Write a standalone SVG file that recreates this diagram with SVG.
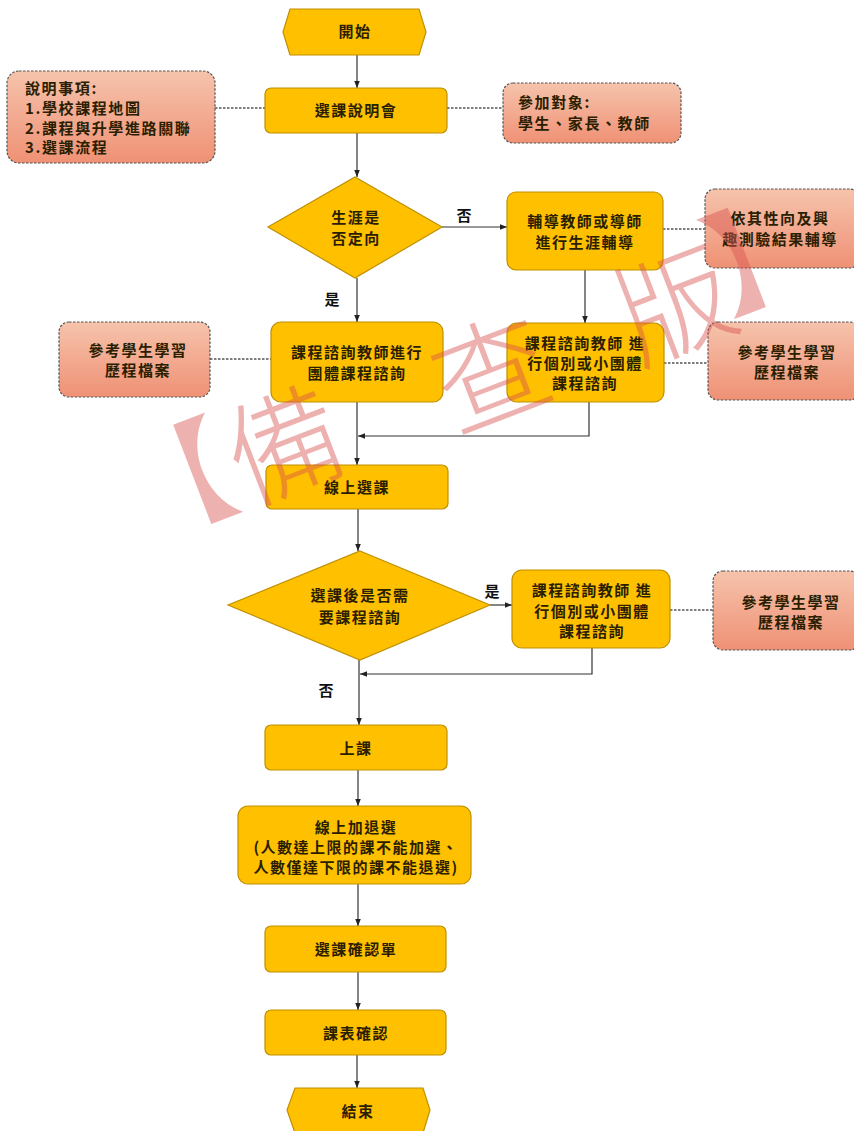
<svg xmlns="http://www.w3.org/2000/svg" width="854" height="1131" viewBox="0 0 854 1131">
<defs>
<linearGradient id="noteGrad" x1="0" y1="0" x2="0" y2="1">
<stop offset="0" stop-color="#F6C3AC"/>
<stop offset="1" stop-color="#EF9175"/>
</linearGradient>
<marker id="arr" viewBox="0 0 10 10" refX="10" refY="5" markerWidth="7" markerHeight="7" markerUnits="userSpaceOnUse" orient="auto">
<path d="M0,1 L10,5 L0,9 z" fill="#222"/>
</marker>
<style>
.box{fill:#FFC000;stroke:#BF9000;stroke-width:1.2}
.note{fill:url(#noteGrad);stroke:#555;stroke-width:1.2;stroke-dasharray:2.5 1.5}
.t{font-family:"Noto Sans CJK TC","Noto Sans CJK SC",sans-serif;font-size:15px;font-weight:bold;fill:#2a2000;text-anchor:middle;letter-spacing:1.5px}
.nt{font-family:"Noto Sans CJK TC","Noto Sans CJK SC",sans-serif;font-size:15px;font-weight:bold;fill:#2a2000;letter-spacing:1.6px}
.lbl{font-family:"Noto Sans CJK TC","Noto Sans CJK SC",sans-serif;font-size:15px;font-weight:bold;fill:#111;text-anchor:middle}
.flow{fill:none;stroke:#333;stroke-width:1.2;marker-end:url(#arr)}
.dash{fill:none;stroke:#555;stroke-width:1.3;stroke-dasharray:2.5 1.5}
.wm{font-family:"Noto Sans CJK TC","Noto Sans CJK SC",sans-serif;font-size:115px;font-weight:300;fill:#D9534F;opacity:0.45;text-anchor:middle}
</style>
</defs>
<rect width="854" height="1131" fill="#ffffff"/>

<g id="connectors">
<path class="flow" d="M357,55 V88"/>
<path class="flow" d="M357,133 V177"/>
<path class="flow" d="M442,227 H507"/>
<path class="flow" d="M357,278 V322"/>
<path class="flow" d="M585,270 V323"/>
<path class="flow" d="M357,402 V465"/>
<path class="flow" d="M589,402 V436 H358"/>
<path class="flow" d="M358,509 V551"/>
<path class="flow" d="M490,605 H512"/>
<path class="flow" d="M592,648 V674 H360"/>
<path class="flow" d="M359,660 V725"/>
<path class="flow" d="M358,770 V806"/>
<path class="flow" d="M358,884 V926"/>
<path class="flow" d="M358,972 V1010"/>
<path class="flow" d="M357,1055 V1088"/>
<path class="dash" d="M215,108 H265"/>
<path class="dash" d="M447,108 H503"/>
<path class="dash" d="M663,229 H705"/>
<path class="dash" d="M210,359 H271"/>
<path class="dash" d="M664,363 H708"/>
<path class="dash" d="M670,610 H713"/>
<text class="lbl" x="464" y="221">否</text>
<text class="lbl" x="332" y="305">是</text>
<text class="lbl" x="492" y="597">是</text>
<text class="lbl" x="326" y="696">否</text>
</g>

<g id="start">
<polygon class="box" points="290,9 419,9 426,32 419,55 290,55 283,32"/>
<text class="t" x="355" y="37">開始</text>
</g>

<g id="briefing">
<rect class="box" x="265" y="88" width="182" height="45" rx="6"/>
<text class="t" x="356" y="116">選課說明會</text>
</g>

<g id="note-items">
<rect class="note" x="7" y="71" width="208" height="92" rx="12"/>
<text class="nt" x="25" y="94">說明事項:</text>
<text class="nt" x="25" y="114">1.學校課程地圖</text>
<text class="nt" x="25" y="134">2.課程與升學進路關聯</text>
<text class="nt" x="25" y="153">3.選課流程</text>
</g>

<g id="note-audience">
<rect class="note" x="503" y="83" width="178" height="60" rx="10"/>
<text class="nt" x="518" y="108">參加對象:</text>
<text class="nt" x="518" y="129">學生、家長、教師</text>
</g>

<g id="decision-career">
<polygon class="box" points="355,177 442,227 355,278 268,227"/>
<text class="t" x="356" y="223">生涯是</text>
<text class="t" x="356" y="244">否定向</text>
</g>

<g id="career-guidance">
<rect class="box" x="507" y="192" width="156" height="78" rx="9"/>
<text class="t" x="585" y="227">輔導教師或導師</text>
<text class="t" x="585" y="248">進行生涯輔導</text>
</g>

<g id="note-aptitude">
<rect class="note" x="705" y="189" width="155" height="79" rx="10"/>
<text class="t" x="780" y="224">依其性向及興</text>
<text class="t" x="780" y="245">趣測驗結果輔導</text>
</g>

<g id="group-consult">
<rect class="box" x="271" y="322" width="172" height="80" rx="10"/>
<text class="t" x="357" y="358">課程諮詢教師進行</text>
<text class="t" x="357" y="379">團體課程諮詢</text>
</g>

<g id="note-portfolio-1">
<rect class="note" x="59" y="322" width="151" height="75" rx="10"/>
<text class="t" x="138" y="356">參考學生學習</text>
<text class="t" x="138" y="376">歷程檔案</text>
</g>

<g id="individual-consult-1">
<rect class="box" x="507" y="323" width="157" height="79" rx="10"/>
<text class="t" x="585" y="349">課程諮詢教師 進</text>
<text class="t" x="585" y="369">行個別或小團體</text>
<text class="t" x="585" y="389">課程諮詢</text>
</g>

<g id="note-portfolio-2">
<rect class="note" x="708" y="322" width="152" height="78" rx="10"/>
<text class="t" x="787" y="358">參考學生學習</text>
<text class="t" x="787" y="378">歷程檔案</text>
</g>

<g id="online-select">
<rect class="box" x="266" y="465" width="182" height="44" rx="6"/>
<text class="t" x="357" y="493">線上選課</text>
</g>

<g id="decision-consult">
<polygon class="box" points="360,551 490,605 360,660 228,605"/>
<text class="t" x="360" y="601">選課後是否需</text>
<text class="t" x="360" y="623">要課程諮詢</text>
</g>

<g id="individual-consult-2">
<rect class="box" x="512" y="570" width="158" height="78" rx="10"/>
<text class="t" x="592" y="596">課程諮詢教師 進</text>
<text class="t" x="592" y="617">行個別或小團體</text>
<text class="t" x="592" y="637">課程諮詢</text>
</g>

<g id="note-portfolio-3">
<rect class="note" x="713" y="571" width="147" height="79" rx="10"/>
<text class="t" x="791" y="608">參考學生學習</text>
<text class="t" x="791" y="628">歷程檔案</text>
</g>

<g id="class">
<rect class="box" x="265" y="725" width="182" height="45" rx="6"/>
<text class="t" x="356" y="754">上課</text>
</g>

<g id="add-drop">
<rect class="box" x="238" y="806" width="233" height="78" rx="10"/>
<text class="t" x="356" y="833">線上加退選</text>
<text class="t" x="356" y="853">(人數達上限的課不能加選、</text>
<text class="t" x="356" y="873">人數僅達下限的課不能退選)</text>
</g>

<g id="confirm-form">
<rect class="box" x="265" y="926" width="181" height="46" rx="6"/>
<text class="t" x="356" y="955">選課確認單</text>
</g>

<g id="schedule-confirm">
<rect class="box" x="265" y="1010" width="181" height="45" rx="6"/>
<text class="t" x="356" y="1039">課表確認</text>
</g>

<g id="end">
<polygon class="box" points="295,1088 423,1088 430,1110 423,1133 295,1133 287,1110"/>
<text class="t" x="358" y="1117">結束</text>
</g>

<g id="watermark">
<text class="wm" x="174" y="525" transform="rotate(-21 174 481)">【</text>
<text class="wm" x="284" y="488" transform="rotate(-21 284 444)">備</text>
<text class="wm" x="491" y="416" transform="rotate(-21 491 372)">查</text>
<text class="wm" x="675" y="347" transform="rotate(-21 675 303)">版</text>
<text class="wm" x="765" y="294" transform="rotate(-21 765 250)">】</text>
</g>
</svg>
